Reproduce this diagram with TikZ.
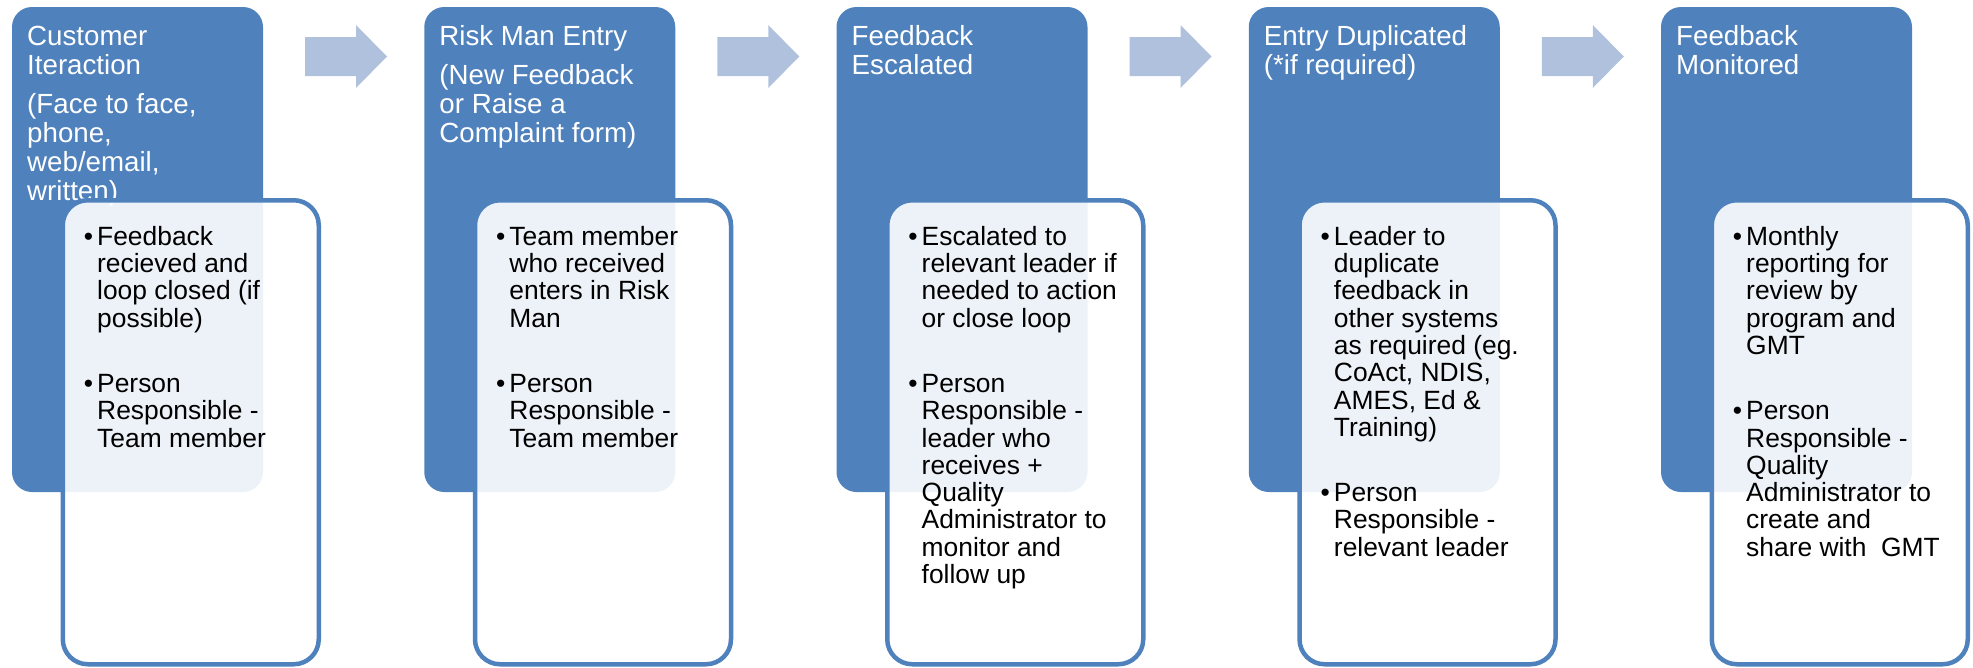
\documentclass[tikz,border=0pt]{standalone}
\usepackage{fontspec}
\setmainfont{Liberation Sans}
\usepackage{tikz}
\usetikzlibrary{positioning}
\definecolor{stageblue}{RGB}{79,129,189}
\definecolor{arrowblue}{RGB}{176,193,221}
\tikzset{%
  stage/.style = {rectangle,fill=stageblue,rounded corners=20pt,
        minimum width=251pt,minimum height=485pt,inner sep=0pt,outer sep=0pt},
  detail/.style = {rectangle,draw=stageblue,line width=4.5pt,fill=white,
        fill opacity=0.9,draw opacity=1,rounded corners=25pt,
        minimum width=256pt,minimum height=464pt,inner sep=0pt},
  stagetitle/.style = {text=white,align=left,inner sep=0pt,anchor=north west,
        font=\fontsize{27.7}{29}\selectfont},
  detailtext/.style = {text=black,align=left,inner sep=0pt,anchor=north west,
        font=\fontsize{26.4}{27.3}\selectfont},
  flowarrow/.style = {fill=arrowblue}
}
\newcommand{\bul}{\llap{\textbullet\hspace{4pt}}}
\newcommand{\ttop}{\rule{0pt}{22pt}}
\newcommand{\btop}{\rule{0pt}{20pt}}

\begin{document}
\begin{tikzpicture}[x=1pt,y=-1pt,node distance=161.25pt]
                    \useasboundingbox (0,0) rectangle (1973,667);

                    % stage boxes
                    \node[stage,anchor=north west] (s1) at (12,7) {};
                    \node[stage] (s2) [right=of s1] {};
                    \node[stage] (s3) [right=of s2] {};
                    \node[stage] (s4) [right=of s3] {};
                    \node[stage] (s5) [right=of s4] {};

                    \node[stagetitle] (t1) at ([shift={(15,16)}]s1.north west)
                        {\ttop Customer\\Iteraction\\[10pt](Face to face,\\phone,\\web/email,\\written)};
                    \node[stagetitle] (t2) at ([shift={(15,16)}]s2.north west)
                        {\ttop Risk Man Entry\\[10pt](New Feedback\\or Raise a\\Complaint form)};
                    \node[stagetitle] (t3) at ([shift={(15,16)}]s3.north west)
                        {\ttop Feedback\\Escalated};
                    \node[stagetitle] (t4) at ([shift={(15,16)}]s4.north west)
                        {\ttop Entry Duplicated\\(*if required)};
                    \node[stagetitle] (t5) at ([shift={(15,16)}]s5.north west)
                        {\ttop Feedback\\Monitored};

                    % detail boxes on top
                    \node[detail,anchor=north west] (d1) at ([shift={(48.5,191)}]s1.north west) {};
                    \node[detail,anchor=north west] (d2) at ([shift={(48.5,191)}]s2.north west) {};
                    \node[detail,anchor=north west] (d3) at ([shift={(48.5,191)}]s3.north west) {};
                    \node[detail,anchor=north west] (d4) at ([shift={(48.5,191)}]s4.north west) {};
                    \node[detail,anchor=north west] (d5) at ([shift={(48.5,191)}]s5.north west) {};

                    \node[detailtext] (b1) at ([shift={(85,218)}]s1.north west)
                        {\btop\bul Feedback\\recieved and\\loop closed (if\\possible)\\[38pt]
                         \bul Person\\Responsible -\\Team member};
                    \node[detailtext] (b2) at ([shift={(85,218)}]s2.north west)
                        {\btop\bul Team member\\who received\\enters in Risk\\Man\\[38pt]
                         \bul Person\\Responsible -\\Team member};
                    \node[detailtext] (b3) at ([shift={(85,218)}]s3.north west)
                        {\btop\bul Escalated to\\relevant leader if\\needed to action\\or close loop\\[38pt]
                         \bul Person\\Responsible -\\leader who\\receives +\\Quality\\Administrator to\\monitor and\\follow up};
                    \node[detailtext] (b4) at ([shift={(85,218)}]s4.north west)
                        {\btop\bul Leader to\\duplicate\\feedback in\\other systems\\as required (eg.\\CoAct, NDIS,\\AMES, Ed \&\\Training)\\[38pt]
                         \bul Person\\Responsible -\\relevant leader};
                    \node[detailtext] (b5) at ([shift={(85,218)}]s5.north west)
                        {\btop\bul Monthly\\reporting for\\review by\\program and\\GMT\\[38pt]
                         \bul Person\\Responsible -\\Quality\\Administrator to\\create and\\share with\ \ GMT};

                    % arrows between stages
                    \fill[flowarrow] ([shift={(42,30)}]s1.north east) -- ++(51,0) -- ++(0,-12)
                        -- ++(31,31.5) -- ++(-31,31.5) -- ++(0,-12) -- ++(-51,0) -- cycle;
                    \fill[flowarrow] ([shift={(42,30)}]s2.north east) -- ++(51,0) -- ++(0,-12)
                        -- ++(31,31.5) -- ++(-31,31.5) -- ++(0,-12) -- ++(-51,0) -- cycle;
                    \fill[flowarrow] ([shift={(42,30)}]s3.north east) -- ++(51,0) -- ++(0,-12)
                        -- ++(31,31.5) -- ++(-31,31.5) -- ++(0,-12) -- ++(-51,0) -- cycle;
                    \fill[flowarrow] ([shift={(42,30)}]s4.north east) -- ++(51,0) -- ++(0,-12)
                        -- ++(31,31.5) -- ++(-31,31.5) -- ++(0,-12) -- ++(-51,0) -- cycle;
                 \end{tikzpicture}
\end{document}
